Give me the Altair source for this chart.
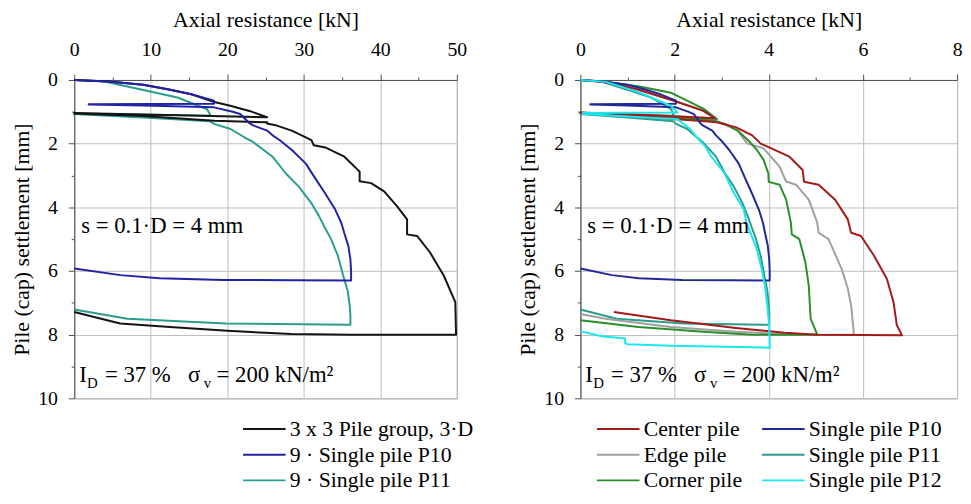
import altair as alt
import pandas as pd

FONT = "Liberation Serif"

# ---------------- data ----------------
# Single piles (kN per pile); the left panel shows 9 x these values
p10_x = [0, 0.5, 1.0, 1.36, 1.7, 2.03, 2.03, 0.21, 0.21, 1.0, 2.03, 2.3, 2.41, 2.53, 2.59, 2.8, 2.88,
         2.99, 3.16, 3.36, 3.5, 3.64, 3.79, 3.88, 3.92, 3.98, 4.01, 4.02, 4.02, 3.2, 2.16, 1.24, 0.67, 0]
p10_y = [0, 0.05, 0.15, 0.29, 0.45, 0.65, 0.75, 0.76, 0.77, 0.80, 0.86, 1.0, 1.07, 1.33, 1.42, 1.59, 1.74,
         1.9, 2.2, 2.62, 3.09, 3.55, 4.07, 4.5, 4.8, 5.21, 5.63, 6.0, 6.3, 6.29, 6.28, 6.23, 6.13, 5.92]

p11_x = [0, 0.44, 1.02, 1.5, 1.93, 1.98, 0, 0, 1.0, 1.98, 2.03, 2.27, 2.47, 2.59, 2.88, 3.07, 3.26,
         3.44, 3.56, 3.64, 3.73, 3.83, 3.9, 3.97, 4.0, 4.01, 4.01, 2.2, 0.77, 0]
p11_y = [0, 0.05, 0.32, 0.55, 0.92, 1.12, 1.05, 1.07, 1.18, 1.3, 1.38, 1.54, 1.8, 1.94, 2.41, 2.93, 3.35,
         3.86, 4.3, 4.64, 5.0, 5.53, 6.1, 6.62, 7.08, 7.4, 7.69, 7.65, 7.5, 7.21]

p12_x = [0, 0.54, 1.23, 1.92, 2.06, 1.0, 0.05, 0.05, 1.0, 2.06, 2.33, 2.5, 2.66, 2.78, 3.06, 3.26,
         3.47, 3.53, 3.61, 3.75, 3.85, 3.92, 3.97, 4.01, 4.02, 1.92, 1.0, 0.95, 0.95, 0.45, 0]
p12_y = [0, 0.06, 0.38, 0.81, 1.02, 1.03, 1.04, 1.06, 1.15, 1.23, 1.54, 1.85, 2.1, 2.41, 2.93, 3.55,
         4.07, 4.5, 4.8, 5.32, 5.94, 6.46, 7.08, 7.7, 8.41, 8.35, 8.3, 8.27, 8.12, 8.05, 7.89]

# 3 x 3 pile group (total kN)
grp_x = [0, 4.5, 9, 12.2, 15.3, 18.3, 20.4, 23, 25.2, 12, 0, 0, 9, 18.3, 25.2, 25.2, 26.3, 28.5, 31,
         31.3, 32.8, 35.3, 37.3, 37.3, 38.8, 40.5, 42.2, 43.5, 43.5, 44.8, 46.5, 48.3, 49.8, 49.9,
         36.2, 28.4, 20, 12.5, 6, 0]
grp_y = [0, 0.05, 0.15, 0.29, 0.45, 0.69, 0.81, 0.98, 1.17, 1.1, 1.04, 1.05, 1.13, 1.28, 1.33, 1.37,
         1.42, 1.6, 1.89, 2.05, 2.12, 2.41, 2.88, 3.18, 3.24, 3.5, 3.97, 4.38, 4.85, 4.9, 5.42, 6.15,
         6.98, 8.0, 8.0, 7.98, 7.88, 7.76, 7.65, 7.29]

# piles inside the group (kN)
center_x = [0, 0.6, 1.23, 1.92, 2.61, 2.82, 2.85, 1.5, 0, 0.02, 1.5, 2.5, 2.9, 3.31, 3.65, 3.83, 3.95,
            4.44, 4.72, 4.75, 5.06, 5.41, 5.68, 5.75, 5.96, 6.24, 6.51, 6.65, 6.72, 6.83, 5.03, 4.34,
            3.3, 1.92, 0.71]
center_y = [0, 0.08, 0.3, 0.62, 0.97, 1.17, 1.2, 1.11, 1.03, 1.04, 1.18, 1.28, 1.33, 1.49, 1.74, 2.0,
            2.08, 2.41, 2.83, 3.2, 3.29, 3.76, 4.38, 4.8, 4.9, 5.53, 6.25, 6.98, 7.7, 8.02, 8.0, 7.94,
            7.79, 7.55, 7.29]

edge_x = [0, 0.6, 1.23, 1.92, 2.61, 2.85, 1.5, 0, 0.02, 1.5, 2.85, 3.1, 3.33, 3.54, 3.89, 4.23, 4.37,
          4.58, 4.85, 5.03, 5.06, 5.27, 5.55, 5.68, 5.75, 5.81, 4.68, 3.3, 1.92, 0.53, 0]
edge_y = [0, 0.07, 0.32, 0.62, 0.95, 1.2, 1.1, 1.02, 1.03, 1.15, 1.3, 1.42, 1.58, 1.99, 2.15, 2.72,
          3.19, 3.29, 3.76, 4.48, 4.8, 5.0, 5.94, 6.56, 7.08, 8.0, 8.0, 7.91, 7.76, 7.5, 7.35]

corner_x = [0, 0.54, 1.23, 1.92, 2.61, 2.9, 1.5, 0, 0.02, 1.5, 2.9, 3.1, 3.35, 3.6, 3.75, 3.89, 3.99,
            4.0, 4.23, 4.37, 4.47, 4.49, 4.65, 4.78, 4.85, 4.89, 5.03, 3.65, 2.61, 1.23, 0]
corner_y = [0, 0.06, 0.2, 0.4, 0.9, 1.23, 1.12, 1.02, 1.03, 1.15, 1.3, 1.4, 1.6, 1.95, 2.2, 2.51, 2.93,
            3.2, 3.29, 3.76, 4.48, 4.85, 5.0, 5.74, 6.46, 7.5, 8.0, 8.0, 7.91, 7.76, 7.55]

# legend labels and colours (right legend fills column by column)
left_names = ["3 x 3 Pile group, 3·D", "9 · Single pile P10", "9 · Single pile P11"]
left_colors = ["#141414", "#2222a6", "#2a9d8c"]
right_names = ["Center pile", "Edge pile", "Corner pile",
               "Single pile P10", "Single pile P11", "Single pile P12"]
right_colors = ["#a31a1a", "#a0a0a0", "#2a8f2a", "#22289a", "#2a9d8c", "#1ae6f0"]

x_title = "Axial resistance [kN]"
y_title = "Pile (cap) settlement [mm]"
note_s = "s = 0.1·D = 4 mm"
note_parts = ["I", "D", "= 37 %", "σ", "v", "= 200 kN/m²"]

left_ticks = list(range(0, 51, 5))
right_ticks = list(range(0, 9, 1))
y_ticks = list(range(0, 11, 1))


def frame(name, xs, ys, factor=1.0):
    return pd.DataFrame({"series": name, "i": range(len(xs)),
                         "x": [v * factor for v in xs], "y": ys})


H = 322


def panel(series, names, colors, ticks, major, xmax, legend, width):
    layers = []
    for k, (name, df) in enumerate(series):
        enc = dict(
            x=alt.X("x:Q", scale=alt.Scale(domain=[0, xmax], nice=False, zero=True),
                    axis=alt.Axis(orient="top", title=x_title, values=ticks,
                                  labelExpr=f"datum.value % {major} === 0 ? datum.label : ''",
                                  tickSize={"condition": {"test": f"datum.value % {major} !== 0", "value": 3}, "value": 6},
                                  gridOpacity={"condition": {"test": f"datum.value % {major} !== 0", "value": 0}, "value": 1},
                                  labelPadding=15, titlePadding=8)),
            y=alt.Y("y:Q", scale=alt.Scale(domain=[0, 10], reverse=True, nice=False),
                    axis=alt.Axis(title=y_title, values=y_ticks,
                                  labelExpr="datum.value % 2 === 0 ? datum.label : ''",
                                  tickSize={"condition": {"test": "datum.value % 2 !== 0", "value": 3}, "value": 6},
                                  gridOpacity={"condition": {"test": "datum.value % 2 !== 0", "value": 0}, "value": 1},
                                  labelPadding=11, titlePadding=4)),
            order="i:Q",
            color=alt.Color("series:N", scale=alt.Scale(domain=names, range=colors),
                            legend=legend if k == 0 else None),
        )
        layers.append(alt.Chart(df).mark_line(strokeWidth=2, strokeJoin="round").encode(**enc))

    def txt(t, xp, yp, size):
        return alt.Chart(pd.DataFrame({"t": [t]})).mark_text(
            align="left", baseline="alphabetic", font=FONT, fontSize=size, color="black"
        ).encode(text="t:N", x=alt.value(xp), y=alt.value(yp))

    layers.append(txt(note_s, 7, 155, 23))
    layers.append(txt(note_parts[0], 5, 306, 23))
    layers.append(txt(note_parts[1], 13, 312, 15))
    layers.append(txt(note_parts[2], 31, 306, 23))
    layers.append(txt(note_parts[3], 115, 306, 23))
    layers.append(txt(note_parts[4], 131, 312, 15))
    layers.append(txt(note_parts[5], 144, 306, 23))
    return alt.layer(*layers).properties(width=width, height=H)


# wide line symbol: path spans 8 units (r = sqrt(size)/2) -> 43 px for size 115.6
common_legend = dict(title=None, orient="none", symbolType="M-6,0H2", symbolSize=115.6,
                     symbolStrokeWidth=2, labelFont=FONT, labelFontSize=22, labelOffset=4,
                     rowPadding=4, labelLimit=400, labelColor="black")

left_series = [
    (left_names[2], frame(left_names[2], p11_x, p11_y, 9)),
    (left_names[0], frame(left_names[0], grp_x, grp_y)),
    (left_names[1], frame(left_names[1], p10_x, p10_y, 9)),
]
right_series = [
    ("Single pile P11", frame("Single pile P11", p11_x, p11_y)),
    ("Edge pile", frame("Edge pile", edge_x, edge_y)),
    ("Corner pile", frame("Corner pile", corner_x, corner_y)),
    ("Center pile", frame("Center pile", center_x, center_y)),
    ("Single pile P10", frame("Single pile P10", p10_x, p10_y)),
    ("Single pile P12", frame("Single pile P12", p12_x, p12_y)),
]

left = panel(left_series, left_names, left_colors, left_ticks, 10, 50,
             alt.Legend(legendX=192, legendY=342, **common_legend), 387)
right = panel(right_series, right_names, right_colors, right_ticks, 2, 8,
              alt.Legend(legendX=38, legendY=342, columns=2, columnPadding=15, **common_legend), 381)

chart = alt.hconcat(left, right, spacing=42).resolve_scale(color="independent").properties(
    padding={"left": 2, "top": -3, "right": 0, "bottom": 0}
).configure_axis(
    labelFont=FONT, titleFont=FONT, labelFontSize=20, titleFontSize=22, titleFontWeight="normal",
    labelColor="black", titleColor="black", gridColor="#bdbdbd", domainColor="#505050",
    tickColor="#505050", labelFlush=False
).configure_view(stroke="#9a9a9a")

chart.save("out.html", embed_options={"renderer": "svg", "actions": False})
